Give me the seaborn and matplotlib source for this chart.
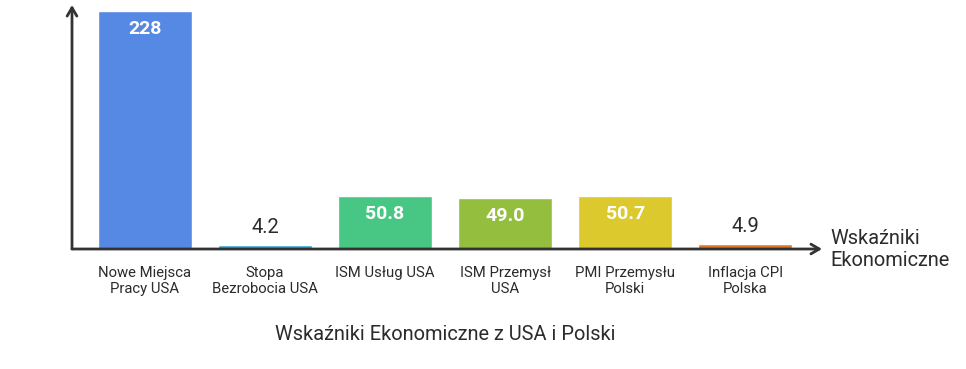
import matplotlib
matplotlib.use("Agg")
import matplotlib.pyplot as plt
import seaborn as sns
import pandas as pd

categories = ["Nowe Miejsca\nPracy USA", "Stopa\nBezrobocia USA", "ISM Usług USA",
              "ISM Przemysł\nUSA", "PMI Przemysłu\nPolski", "Inflacja CPI\nPolska"]
values = [228, 4.2, 50.8, 49.0, 50.7, 4.9]
value_labels = ["228", "4.2", "50.8", "49.0", "50.7", "4.9"]
colors = ["#5689E4", "#3AA3DD", "#48C784", "#93BE3E", "#DCC92E", "#E0782A"]
x_axis_label = "Wskaźniki\nEkonomiczne"
title = "Wskaźniki Ekonomiczne z USA i Polski"

sns.set_style("white")
plt.rcParams['font.family'] = ['Roboto', 'DejaVu Sans']

df = pd.DataFrame({"cat": categories, "val": values})

fig = plt.figure(figsize=(9.66, 3.69), dpi=100)
ax = fig.add_axes([72/966, (369-249)/369, (822-72)/966, (249-5)/369])
sns.barplot(data=df, x="cat", y="val", hue="cat", palette=colors, legend=False,
            width=0.78, saturation=1, ax=ax)

ax.set_xlim(-0.608, 5.64)
ax.set_ylim(0, 233.7)
for s in ax.spines.values():
    s.set_visible(False)
ax.set_yticks([])
ax.set_xlabel("")
ax.set_ylabel("")
ax.tick_params(axis='x', length=0, pad=12, labelsize=10.7, colors="#2b2b2b")

# axes arrows
ax.annotate("", xy=(0, 1.0), xytext=(0, 0), xycoords="axes fraction",
            arrowprops=dict(arrowstyle="->,head_length=0.6,head_width=0.35", color="#333333", lw=2,
                            shrinkA=0, shrinkB=0), annotation_clip=False)
ax.annotate("", xy=(1.0, 0), xytext=(0, 0), xycoords="axes fraction",
            arrowprops=dict(arrowstyle="->,head_length=0.6,head_width=0.35", color="#333333", lw=2,
                            shrinkA=0, shrinkB=0), annotation_clip=False)

for i, (v, lab) in enumerate(zip(values, value_labels)):
    if v > 20:
        ax.annotate(lab, xy=(i, v), xytext=(0, -18), textcoords="offset pixels",
                    ha="center", va="center", color="white", fontsize=14, fontweight="semibold")
    else:
        ax.annotate(lab, xy=(i, v), xytext=(0, 17), textcoords="offset pixels",
                    ha="center", va="center", color="#2b2b2b", fontsize=14.5)

fig.text(830/966, 1 - 250/369, x_axis_label, ha="left", va="center", fontsize=14.4,
         color="#2b2b2b", linespacing=1.2)
fig.text(445/966, 1 - 334/369, title, ha="center", va="center", fontsize=14.4, color="#2b2b2b")

fig.savefig("out.png", dpi=100)
